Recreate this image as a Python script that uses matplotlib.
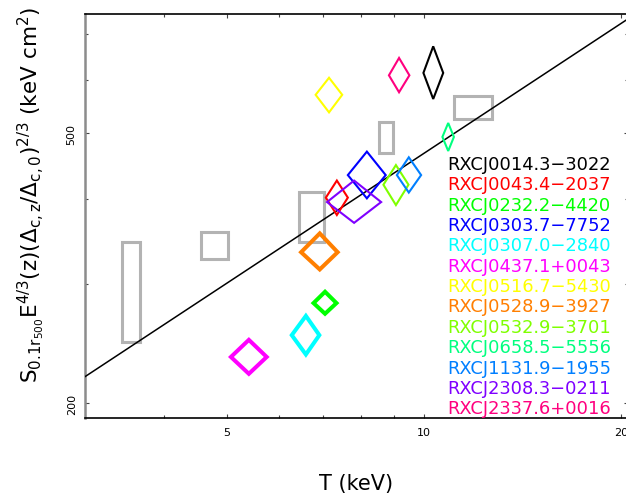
import numpy as np
import matplotlib
matplotlib.use("Agg")
import matplotlib.pyplot as plt
from matplotlib.patches import Polygon
from matplotlib.ticker import FixedLocator, NullFormatter, FixedFormatter

# ---------------- data ----------------
names = ["RXCJ0014.3\u22123022", "RXCJ0043.4\u22122037", "RXCJ0232.2\u22124420",
         "RXCJ0303.7\u22127752", "RXCJ0307.0\u22122840", "RXCJ0437.1+0043",
         "RXCJ0516.7\u22125430", "RXCJ0528.9\u22123927", "RXCJ0532.9\u22123701",
         "RXCJ0658.5\u22125556", "RXCJ1131.9\u22121955", "RXCJ2308.3\u22120211",
         "RXCJ2337.6+0016"]
colors = ["#000000", "#ff0000", "#00ff00", "#0000ff", "#00ffff", "#ff00ff",
          "#ffff00", "#ff7f00", "#7fff00", "#00ff7f", "#007fff", "#7f00ff",
          "#ff007f"]
thick = [False, False, True, False, True, True, False, True, False, False, False, False, False]

T     = [10.33, 7.36, 7.06, 8.18, 6.60, 5.40, 7.16, 6.93, 9.06, 10.89, 9.48, 7.82, 9.16]
T_lo  = [9.98, 7.08, 6.78, 7.65, 6.28, 5.07, 6.83, 6.49, 8.67, 10.67, 9.09, 7.11, 8.84]
T_hi  = [10.70, 7.65, 7.35, 8.74, 6.92, 5.75, 7.50, 7.38, 9.47, 11.11, 9.90, 8.60, 9.50]
S     = [614, 402, 281, 434, 252, 234, 570, 334, 420, 494, 434, 396, 609]
S_lo  = [562, 379, 271, 401, 236, 221, 537, 315, 392, 471, 409, 369, 575]
S_hi  = [672, 426, 292, 470, 269, 248, 604, 356, 449, 518, 461, 426, 646]

# comparison sample (grey boxes)
box_T_lo = [3.46, 4.56, 6.44, 8.54, 11.10]
box_T_hi = [3.68, 5.02, 7.03, 8.98, 12.70]
box_S_lo = [246, 326, 346, 468, 525]
box_S_hi = [346, 358, 410, 519, 568]

# best-fit relation S = norm * (T / T_piv)^slope
fit_norm = 300.7
fit_piv = 5.0
fit_slope = 0.636

x_major = [5, 10, 20]
x_minor = [4, 6, 7, 8, 9]
y_major = [200, 500]
y_minor = [300, 400, 600, 700]
xlim = (3.034, 20.5)
ylim = (190, 750)

# ---------------- figure ----------------
fig = plt.figure(figsize=(6.26, 5.02), dpi=100)
W, H = 626, 502
L, R, B, Tp = 85, 628, 419.3, 15
ax = fig.add_axes([L / W, (H - B) / H, (R - L) / W, (B - Tp) / H])
ax.set_xscale("log")
ax.set_yscale("log")
ax.set_xlim(*xlim)
ax.set_ylim(*ylim)

# fit line
tt = np.array(xlim)
ax.plot(tt, fit_norm * (tt / fit_piv) ** fit_slope, color="black", lw=1.1, zorder=3)

# grey boxes
for a, b, c, d in zip(box_T_lo, box_T_hi, box_S_lo, box_S_hi):
    poly = Polygon([(a, c), (a, d), (b, d), (b, c)], closed=True, fill=False,
                   edgecolor="#b3b3b3", lw=2.2, joinstyle="miter", zorder=2)
    ax.add_patch(poly)

# diamonds
for i in range(len(names)):
    poly = Polygon([(T_lo[i], S[i]), (T[i], S_hi[i]), (T_hi[i], S[i]), (T[i], S_lo[i])],
                   closed=True, fill=False, edgecolor=colors[i],
                   lw=2.9 if thick[i] else 1.5, joinstyle="miter", zorder=4)
    ax.add_patch(poly)

# labels as colored text list
y0 = (B - 165) / (B - Tp)
dy = 20.35 / (B - Tp)
for i, (n, c) in enumerate(zip(names, colors)):
    ax.text((447 - L) / (R - L), y0 - i * dy, n, color=c, fontsize=12.9,
            transform=ax.transAxes, ha="left", va="center", zorder=5)

# ticks
ax.xaxis.set_major_locator(FixedLocator(x_major))
ax.xaxis.set_minor_locator(FixedLocator(x_minor))
ax.xaxis.set_major_formatter(FixedFormatter([str(v) for v in x_major]))
ax.xaxis.set_minor_formatter(NullFormatter())
ax.yaxis.set_major_locator(FixedLocator(y_major))
ax.yaxis.set_minor_locator(FixedLocator(y_minor))
ax.yaxis.set_major_formatter(FixedFormatter([str(v) for v in y_major]))
ax.yaxis.set_minor_formatter(NullFormatter())
ax.tick_params(which="both", direction="in", top=True, right=True,
               width=0.8, color="#444444", labelsize=8, pad=6)
ax.tick_params(which="major", length=3)
ax.tick_params(which="minor", length=2.5)
for lab in ax.get_yticklabels():
    lab.set_rotation(90)
    lab.set_va("center")

for side in ["top", "bottom"]:
    ax.spines[side].set_color("black")
    ax.spines[side].set_linewidth(1.2)
ax.spines["left"].set_color("#8c8c8c")
ax.spines["left"].set_linewidth(1.8)
ax.spines["right"].set_visible(False)

ax.set_xlabel("T (keV)", fontsize=15)
ax.xaxis.set_label_coords(0.5, (B - 484) / (B - Tp))
ax.xaxis.label.set_va("center")
ax.set_ylabel(r"$\mathregular{S_{0.1r_{500}}E^{4/3}(z)(\Delta_{c,z}/\Delta_{c,0})^{2/3}\ (keV\ cm^{2})}$",
              fontsize=15.5)
ax.yaxis.set_label_coords((31 - L) / (R - L), (B - 195) / (B - Tp))
ax.yaxis.label.set_va("center")

fig.savefig("out.png", dpi=100)
